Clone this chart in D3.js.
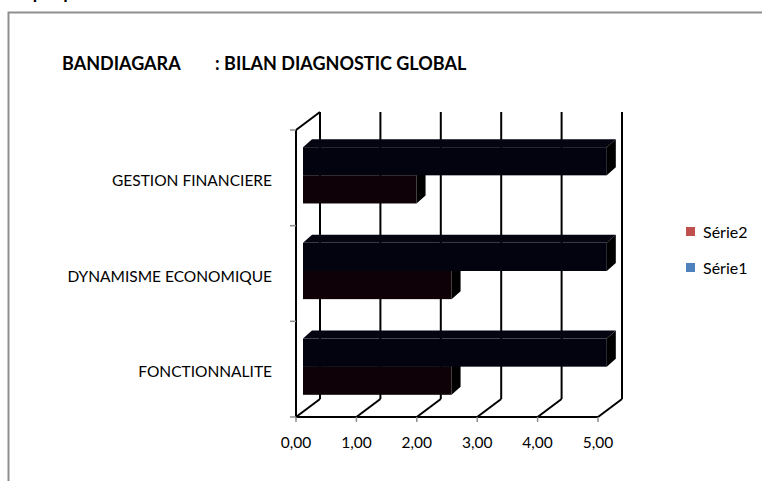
<!DOCTYPE html>
<html>
<head>
<meta charset="utf-8">
<script src="https://cdnjs.cloudflare.com/ajax/libs/d3/7.8.5/d3.min.js"></script>
<style>
  body { margin: 0; background: #fff; }
  svg { display: block; font-family: Lato, "Open Sans", sans-serif; }
</style>
</head>
<body>
<svg id="canvas" width="762" height="481"></svg>
<script>
// data
const categories = ['GESTION FINANCIERE', 'DYNAMISME ECONOMIQUE', 'FONCTIONNALITE'];
const seriesNames = ['Série1', 'Série2'];
const serie1 = [5.03, 5.03, 5.03];
const serie2 = [1.88, 2.46, 2.46];
const tickValues = [0, 1, 2, 3, 4, 5];
const legendItems = ['Série2', 'Série1'];
const legendColors = ['#c0504d', '#4f81bd'];

const svg = d3.select('#canvas');

// frame
svg.append('path')
    .attr('d', 'M8.5,481 L8.5,12.5 L762,12.5')
    .attr('fill', 'none')
    .attr('stroke', '#8f8f8f')
    .attr('stroke-width', 2);

// sheet title, cut by the top of the window as in the picture
svg.append('text')
    .attr('x', 4)
    .attr('y', -1)
    .attr('font-size', 18)
    .attr('font-weight', 'bold')
    .text('Graphique');

svg.append('text')
    .attr('x', 62)
    .attr('y', 70)
    .attr('font-size', 18)
    .attr('font-weight', 'bold')
    .attr('xml:space', 'preserve')
    .text('BANDIAGARA        : BILAN DIAGNOSTIC GLOBAL');

// front plane scales
const x = d3.scaleLinear().domain([0, 5]).range([296, 598]);
const y = d3.scaleBand().domain(categories).range([130, 417]);
const sub = d3.scaleBand().domain(seriesNames).range([0, y.bandwidth()]).paddingOuter(0.7);

// depth of the box and of the bars
const DX = 24, DY = -18;
const barOff = {x: 7, y: -2.5};
const barDepth = {x: 9, y: -8};

const grid = svg.append('g').attr('stroke', '#000').attr('stroke-width', 2).attr('fill', 'none');

// back wall verticals
grid.selectAll('.back')
    .data(tickValues)
    .enter()
    .append('line')
    .attr('x1', d => x(d) + DX)
    .attr('x2', d => x(d) + DX)
    .attr('y1', y.range()[0] + DY)
    .attr('y2', y.range()[1] + DY);

// floor diagonals
grid.selectAll('.floor')
    .data(tickValues)
    .enter()
    .append('line')
    .attr('x1', d => x(d))
    .attr('y1', y.range()[1])
    .attr('x2', d => x(d) + DX)
    .attr('y2', y.range()[1] + DY);

// left wall top edge
grid.append('line')
    .attr('x1', x(0)).attr('y1', y.range()[0])
    .attr('x2', x(0) + DX).attr('y2', y.range()[0] + DY);

// bars
const bars = [];
categories.forEach((c, i) => {
    bars.push({cat: c, s: 'Série2', v: serie2[i]});
    bars.push({cat: c, s: 'Série1', v: serie1[i]});
});

const colors = {
    'Série1': {front: '#03030f', top: '#050512', side: '#000000'},
    'Série2': {front: '#0e0208', top: '#0a0206', side: '#000000'}
};

const bar = svg.selectAll('.bar')
    .data(bars)
    .enter()
    .append('g');

bar.each(function (d) {
    const g = d3.select(this);
    const x0 = x(0) + barOff.x;
    const x1 = x(d.v) + barOff.x;
    const y0 = y(d.cat) + sub(d.s) + barOff.y;
    const y1 = y0 + sub.bandwidth();
    const bx = barDepth.x, by = barDepth.y;
    // top face
    g.append('path')
        .attr('d', `M${x0},${y0} L${x0 + bx},${y0 + by} L${x1 + bx},${y0 + by} L${x1},${y0} Z`)
        .attr('fill', colors[d.s].top);
    // side face
    g.append('path')
        .attr('d', `M${x1},${y0} L${x1 + bx},${y0 + by} L${x1 + bx},${y1 + by} L${x1},${y1} Z`)
        .attr('fill', colors[d.s].side);
    // front face
    g.append('rect')
        .attr('x', x0)
        .attr('y', y0)
        .attr('width', x1 - x0)
        .attr('height', y1 - y0)
        .attr('fill', colors[d.s].front);
});

// front axes
const front = svg.append('g').attr('stroke', '#000').attr('stroke-width', 2);
front.append('line')
    .attr('x1', x(0)).attr('x2', x(5))
    .attr('y1', y.range()[1]).attr('y2', y.range()[1]);
front.append('line')
    .attr('x1', x(0)).attr('x2', x(0))
    .attr('y1', y.range()[0]).attr('y2', y.range()[1]);

// ticks
const ticks = svg.append('g').attr('stroke', '#8c8c8c').attr('stroke-width', 1.5);
ticks.selectAll('line.xt')
    .data(tickValues)
    .enter()
    .append('line')
    .attr('x1', d => x(d)).attr('x2', d => x(d))
    .attr('y1', y.range()[1]).attr('y2', y.range()[1] + 5);
const yEdges = categories.map(c => y(c)).concat([y.range()[1]]);
ticks.selectAll('line.yt')
    .data(yEdges)
    .enter()
    .append('line')
    .attr('x1', x(0) - 6).attr('x2', x(0))
    .attr('y1', d => d).attr('y2', d => d);

// tick labels
const fmt = v => d3.format('.2f')(v).replace('.', ',');
svg.selectAll('.xl')
    .data(tickValues)
    .enter()
    .append('text')
    .attr('x', d => x(d))
    .attr('y', 448)
    .attr('text-anchor', 'middle')
    .attr('font-size', 15.5)
    .text(fmt);

svg.selectAll('.yl')
    .data(categories)
    .enter()
    .append('text')
    .attr('x', 272)
    .attr('y', d => y(d) + y.bandwidth() / 2 + 8)
    .attr('text-anchor', 'end')
    .attr('font-size', 15.5)
    .text(d => d);

// legend
const legend = svg.selectAll('.lg')
    .data(legendItems)
    .enter()
    .append('g')
    .attr('transform', (d, i) => `translate(686, ${227 + i * 36})`);
legend.append('rect')
    .attr('width', 9).attr('height', 9)
    .attr('fill', (d, i) => legendColors[i]);
legend.append('text')
    .attr('x', 17).attr('y', 11)
    .attr('font-size', 16)
    .text(d => d);
</script>
</body>
</html>
